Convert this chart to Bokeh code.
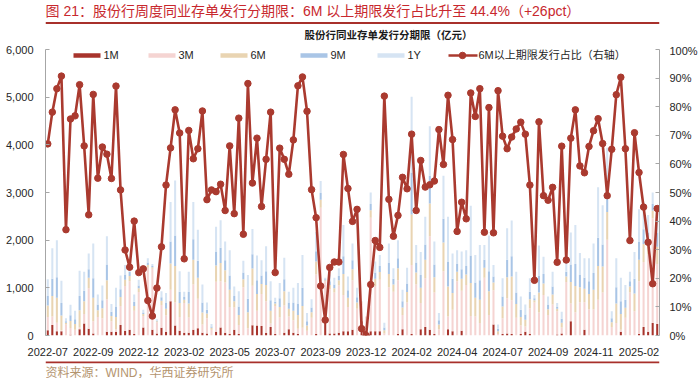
from bokeh.plotting import figure
from bokeh.layouts import column
from bokeh.models import (Range1d, LinearAxis, NumeralTickFormatter, PrintfTickFormatter,
                          FixedTicker, Label, ColumnDataSource)
from bokeh.core.properties import value
from bokeh.embed import file_html
from bokeh.resources import INLINE

# ---------------- data ----------------
tick_labels = ["2022-07", "2022-09", "2022-12", "2023-02", "2023-05", "2023-07", "2023-09",
               "2023-12", "2024-02", "2024-04", "2024-07", "2024-09", "2024-11", "2025-02"]

share_6m_plus = [67.0, 78.1, 86.3, 90.7, 37.0, 75.7, 76.8, 87.7, 66.3, 42.2,
                 84.3, 55.0, 65.9, 63.4, 54.9, 87.2, 50.9, 29.9, 23.9, 40.0,
                 22.0, 23.3, 12.2, 6.8, 16.6, 31.0, 52.6, 65.6, 78.9, 70.8,
                 26.8, 71.7, 61.8, 65.3, 78.5, 47.5, 50.9, 50.3, 52.9, 43.7,
                 66.3, 42.6, 76.0, 35.4, 88.1, 53.3, 69.0, 45.1, 61.6, 78.1,
                 22.0, 65.5, 61.6, 56.4, 68.4, 87.3, 90.4, 78.4, 51.0, 41.2,
                 17.3, 5.4, 23.8, 25.7, 25.7, 63.3, 51.4, 39.9, 44.1, 2.4,
                 0.0, 17.8, 33.2, 30.8, 83.7, 47.6, 34.7, 42.0, 55.3, 51.3,
                 70.4, 43.7, 61.2, 51.9, 52.7, 54.0, 72.0, 59.8, 84.0, 68.5,
                 36.4, 46.6, 40.8, 84.8, 76.6, 86.3, 36.1, 79.7, 35.9, 85.6,
                 69.7, 65.3, 69.4, 72.2, 74.6, 70.4, 52.6, 19.3, 74.7, 48.9,
                 47.3, 51.8, 25.6, 66.2, 26.4, 69.0, 78.9, 59.3, 56.9, 66.1,
                 71.6, 75.8, 67.1, 48.9, 65.1, 84.2, 90.3, 65.3, 33.2, 70.9,
                 57.0, 44.9, 32.6, 18.1, 44.4]

iss_1m = [110, 220, 90, 90, 0, 15, 0, 130, 250, 140,
          40, 0, 0, 80, 80, 80, 220, 100, 120, 30,
          0, 170, 0, 120, 40, 160, 80, 720, 210, 100,
          60, 60, 120, 150, 60, 40, 0, 80, 170, 60,
          30, 120, 30, 0, 0, 215, 210, 200, 60, 180,
          30, 0, 60, 130, 60, 30, 0, 0, 0, 30,
          0, 300, 40, 40, 60, 90, 90, 120, 0, 300,
          100, 90, 90, 90, 0, 0, 0, 30, 130, 0,
          30, 0, 130, 180, 120, 30, 0, 0, 130, 90,
          0, 100, 0, 0, 0, 0, 0, 0, 230, 0,
          30, 40, 30, 0, 30, 80, 30, 0, 0, 0,
          0, 0, 20, 40, 0, 300, 0, 0, 120, 0,
          0, 0, 0, 0, 0, 0, 80, 0, 0, 0,
          30, 180, 80, 260, 240]

iss_3m = [280, 180, 180, 20, 230, 140, 120, 40, 200, 850,
          260, 390, 360, 680, 220, 50, 400, 940, 1020, 490,
          910, 240, 1420, 1280, 240, 480, 340, 240, 480, 290,
          620, 320, 950, 620, 170, 320, 120, 1050, 970, 1050,
          570, 470, 190, 1010, 150, 830, 310, 670, 660, 70,
          590, 380, 570, 270, 260, 110, 160, 100, 370, 1250,
          2680, 840, 930, 860, 990, 760, 510, 1040, 560, 400,
          300, 2380, 950, 1080, 40, 1010, 920, 1130, 300, 690,
          1450, 1070, 550, 1020, 1960, 870, 130, 1350, 270, 450,
          1140, 840, 1060, 410, 400, 260, 1210, 430, 720, 30,
          330, 740, 710, 370, 180, 110, 540, 690, 480, 850,
          430, 650, 490, 130, 1120, 370, 490, 700, 580, 550,
          550, 750, 900, 2010, 180, 260, 40, 370, 900, 510,
          1110, 1360, 1620, 2200, 1260]

iss_6m = [240, 430, 520, 310, 40, 150, 120, 360, 270, 220,
          490, 140, 210, 400, 110, 260, 190, 130, 110, 100,
          80, 40, 60, 30, 20, 90, 140, 550, 770, 290,
          70, 290, 520, 440, 250, 100, 40, 340, 380, 260,
          360, 130, 210, 170, 340, 360, 350, 210, 340, 270,
          50, 220, 300, 160, 200, 290, 460, 110, 120, 270,
          170, 20, 90, 90, 110, 440, 190, 230, 130, 10,
          0, 160, 150, 160, 70, 280, 150, 250, 160, 220,
          1060, 250, 320, 390, 690, 320, 100, 600, 630, 350,
          200, 250, 220, 690, 390, 490, 210, 500, 160, 60,
          250, 440, 500, 290, 180, 140, 190, 50, 420, 240,
          120, 210, 50, 100, 120, 450, 550, 310, 280, 320,
          410, 710, 550, 580, 100, 410, 330, 210, 130, 370,
          450, 380, 250, 160, 360]

iss_9m = [200, 360, 430, 260, 30, 120, 100, 300, 220, 180,
          410, 120, 170, 330, 90, 220, 160, 110, 90, 90,
          60, 30, 50, 30, 10, 70, 120, 460, 640, 240,
          60, 240, 430, 360, 210, 80, 30, 290, 320, 210,
          300, 110, 180, 140, 280, 300, 290, 180, 290, 220,
          40, 180, 250, 130, 170, 240, 380, 90, 100, 220,
          140, 20, 80, 80, 90, 370, 160, 190, 110, 0,
          0, 130, 130, 130, 60, 230, 120, 210, 130, 180,
          880, 210, 270, 320, 580, 270, 90, 500, 520, 300,
          160, 200, 180, 580, 320, 410, 170, 420, 130, 50,
          210, 370, 420, 240, 150, 110, 160, 40, 350, 200,
          100, 170, 40, 80, 100, 370, 460, 260, 230, 270,
          350, 590, 460, 480, 80, 340, 270, 170, 110, 310,
          380, 310, 210, 140, 300]

iss_1y = [350, 640, 780, 470, 60, 220, 180, 530, 400, 330,
          730, 210, 310, 590, 160, 390, 290, 200, 160, 150,
          120, 60, 90, 40, 30, 130, 210, 830, 1150, 430,
          110, 430, 780, 650, 380, 150, 50, 520, 580, 390,
          530, 200, 320, 250, 500, 530, 520, 320, 520, 400,
          80, 320, 450, 230, 310, 430, 690, 170, 170, 400,
          250, 30, 140, 140, 160, 660, 290, 350, 200, 10,
          0, 240, 230, 230, 100, 410, 220, 380, 240, 330,
          1590, 370, 480, 580, 1040, 480, 150, 900, 940, 530,
          290, 370, 330, 1040, 580, 740, 310, 750, 240, 90,
          380, 660, 750, 440, 280, 210, 280, 70, 640, 360,
          170, 310, 80, 150, 180, 670, 820, 460, 410, 480,
          620, 1060, 820, 870, 150, 610, 490, 310, 200, 560,
          680, 560, 370, 240, 540]

series_names = ["1M", "3M", "6M", "9M", "1Y"]
line_name = "6M以上期限发行占比（右轴）"
title_text = "图 21：股份行周度同业存单发行分期限：6M 以上期限发行占比升至 44.4%（+26pct）"
subtitle_text = "股份行同业存单发行分期限（亿元）"
source_text = "资料来源：WIND，华西证券研究所"

# ---------------- style ----------------
C_1M, C_3M, C_6M, C_9M, C_1Y = "#A8342C", "#F5D4D2", "#E9D4B2", "#A9C5E6", "#D6E4F3"
C_LINE = "#AA3A2F"
C_TITLE = "#C8282E"
C_RULE = "#A8302B"
C_SRC = "#B4946E"
FONT = "Liberation Sans, Noto Sans CJK SC"

W = 700
TOP_H, BOT_H = 44, 20
MAIN_H = 378 - TOP_H - BOT_H          # 314
FL, FR, FT, FB = 45, 659, 49, 338     # frame edges in page pixels


def bare_fig(h):
    f = figure(width=W, height=h, x_range=Range1d(0, W), y_range=Range1d(h, 0),
               output_backend="svg", toolbar_location=None,
               x_axis_location=None, y_axis_location=None,
               min_border_left=0, min_border_right=0, min_border_top=0,
               min_border_bottom=0)
    f.xgrid.visible = False
    f.ygrid.visible = False
    f.outline_line_color = None
    return f


# ---------------- header ----------------
top = bare_fig(TOP_H)
top.text(x=[0], y=[10], text=[title_text], text_font=value(FONT),
         text_font_size=value("14px"), text_color=C_TITLE,
         text_baseline="middle", text_align="left")
top.line(x=[0, W], y=[22.5, 22.5], line_color=C_RULE, line_width=1.8)
top.text(x=[391], y=[34], text=[subtitle_text], text_font=value(FONT),
         text_font_size=value("10.5px"), text_font_style="bold", text_color="#1a1a1a",
         text_baseline="middle", text_align="center")

# ---------------- main chart ----------------
n = len(share_6m_plus)
weeks = list(range(n))
X0, X1 = -0.5, n - 0.5


def xd(px):
    return X0 + (px - FL) * (X1 - X0) / (FR - FL)


def yd(py):
    return (FB - py) * 6000.0 / (FB - FT)


p = figure(width=W, height=MAIN_H, x_range=Range1d(X0, X1), y_range=Range1d(0, 6000),
           output_backend="svg", toolbar_location=None,
           min_border_left=FL, min_border_right=W - FR,
           min_border_top=FT - TOP_H, min_border_bottom=TOP_H + MAIN_H - FB)
p.extra_y_ranges = {"pct": Range1d(0, 100)}
p.xgrid.visible = False
p.ygrid.visible = False
p.outline_line_color = None

src = ColumnDataSource(dict(x=weeks, m1=iss_1m, m3=iss_3m, m6=iss_6m, m9=iss_9m,
                            y1=iss_1y, share=share_6m_plus))

p.vbar_stack(["m1", "m3", "m6", "m9", "y1"], x="x", width=0.45, source=src,
             color=[C_1M, C_3M, C_6M, C_9M, C_1Y], line_color=None)

p.line("x", "share", source=src, y_range_name="pct", line_color=C_LINE, line_width=2.6)
p.scatter("x", "share", source=src, y_range_name="pct", marker="circle", size=6.5,
          fill_color=C_LINE, line_color=C_LINE)

AX = "#A6A6A6"
yl = p.yaxis[0]
yl.ticker = FixedTicker(ticks=[0, 1000, 2000, 3000, 4000, 5000, 6000])
yl.formatter = NumeralTickFormatter(format="0,0")
yr = LinearAxis(y_range_name="pct", ticker=FixedTicker(ticks=list(range(0, 101, 10))),
                formatter=PrintfTickFormatter(format="%d%%"))
p.add_layout(yr, "right")
for ax, so in ((yl, 12), (yr, 10)):
    ax.axis_line_color = AX
    ax.major_tick_line_color = AX
    ax.major_tick_in = 4
    ax.major_tick_out = 0
    ax.minor_tick_line_color = None
    ax.major_label_standoff = so
    ax.major_label_text_font_size = "11px"
    ax.major_label_text_font = "Liberation Sans"
    ax.major_label_text_color = "#262626"

xa = p.xaxis[0]
xa.ticker = FixedTicker(ticks=[10 * i for i in range(len(tick_labels))])
xa.major_label_overrides = {10 * i: t for i, t in enumerate(tick_labels)}
xa.axis_line_color = None
xa.major_tick_line_color = None
xa.minor_tick_line_color = None
xa.major_label_standoff = 6
xa.major_label_text_font_size = "11px"
xa.major_label_text_font = "Liberation Sans"
xa.major_label_text_color = "#262626"

# legend drawn inside the frame
LY = 55
sw_starts = [73, 148, 220, 300, 377]
for s0, col, name in zip(sw_starts, [C_1M, C_3M, C_6M, C_9M, C_1Y], series_names):
    p.rect(x=xd(s0 + 13.5), y=yd(LY), width=27, height=4.5, width_units="screen",
           height_units="screen", fill_color=col, line_color=None)
    p.add_layout(Label(x=xd(s0 + 30), y=yd(LY), text=name, text_font=FONT,
                       text_font_size="11px", text_color="#262626",
                       text_baseline="middle", text_align="left"))
p.line(x=[xd(448), xd(477)], y=[yd(LY), yd(LY)], line_color=C_LINE, line_width=2.6)
p.scatter(x=[xd(462)], y=[yd(LY)], marker="circle", size=6.5, fill_color=C_LINE,
          line_color=C_LINE)
p.add_layout(Label(x=xd(478), y=yd(LY), text=line_name, text_font=FONT,
                   text_font_size="11px", text_color="#262626",
                   text_baseline="middle", text_align="left"))

# ---------------- footer ----------------
bot = bare_fig(BOT_H)
bot.line(x=[0, W], y=[3.8, 3.8], line_color=C_RULE, line_width=1.8)
bot.text(x=[0], y=[14], text=[source_text], text_font=value(FONT),
         text_font_size=value("12px"), text_color=C_SRC,
         text_baseline="middle", text_align="left")

layout = column(top, p, bot, spacing=0)
open("out.html", "w").write(file_html(layout, INLINE))
